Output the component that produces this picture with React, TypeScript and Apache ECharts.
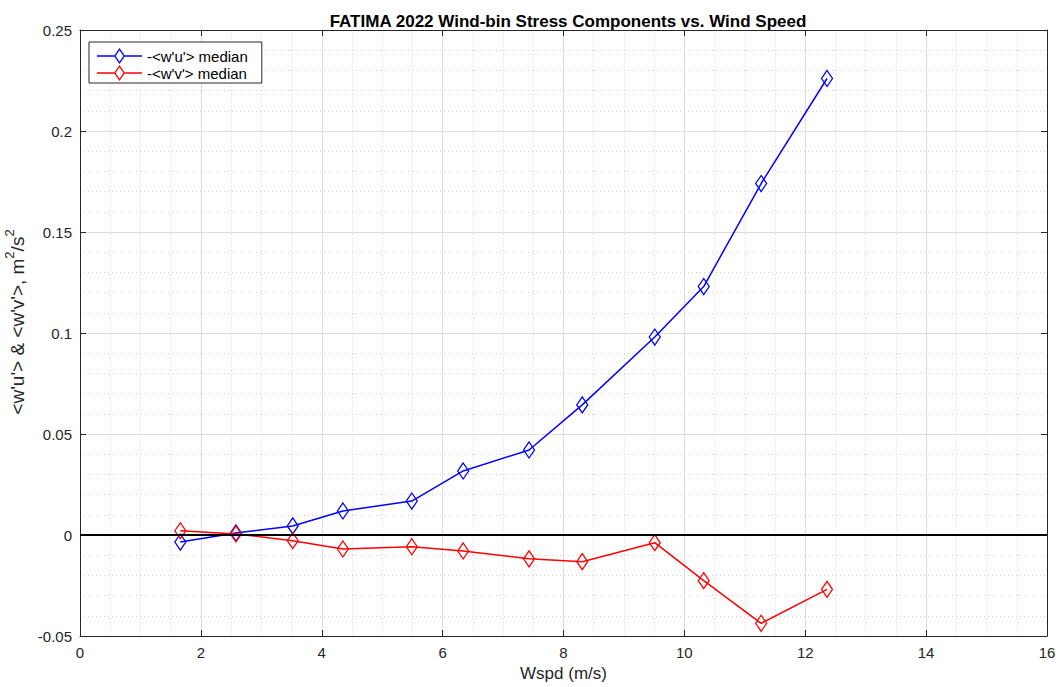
import React, { useEffect, useRef } from "react";
import * as echarts from "echarts";

const windSpeed = [1.66, 2.58, 3.52, 4.35, 5.49, 6.34, 7.43, 8.31, 9.51, 10.32, 11.27, 12.36];
const wuMedian = [-0.0035, 0.001, 0.0045, 0.0119, 0.0168, 0.0317, 0.0421, 0.0644, 0.098, 0.123, 0.174, 0.226];
const wvMedian = [0.0021, 0.0005, -0.0028, -0.0069, -0.0058, -0.0079, -0.0118, -0.0132, -0.0038, -0.0226, -0.0437, -0.0269];
const seriesNames = ["-<w'u'> median", "-<w'v'> median"];
const seriesColors = ["#0000ff", "#ff0000"];
const titleText = "FATIMA 2022 Wind-bin Stress Components vs. Wind Speed";
const xName = "Wspd (m/s)";
const yNameParts = ["<w'u'> & <w'v'>, m", "2", "/s", "2"];

const FONT = "'Liberation Sans', Arial, Helvetica, sans-serif";
const AX = "#262626";

// legend icon: horizontal line through an outlined diamond (45 x 16 box)
const LEGEND_ICON =
  "path://M0 7.25L17.2 7.25L17.2 8.75L0 8.75Z" +
  "M27.8 7.25L45 7.25L45 8.75L27.8 8.75Z" +
  "M22.5 0L28 8L22.5 16L17 8Z" +
  "M22.5 2.2L18.6 8L22.5 13.8L26.4 8Z";

export default function App() {
  const ref = useRef<HTMLDivElement>(null);
  useEffect(() => {
    if (!ref.current) return;
    const chart = echarts.init(ref.current, undefined, { renderer: "svg" });
    const pair = (xs: number[], ys: number[]) => xs.map((x, i) => [x, ys[i]]);
    const yName = `{a|${yNameParts[0]}}{s|${yNameParts[1]}}{a|${yNameParts[2]}}{s|${yNameParts[3]}}`;
    const axisCommon = {
      axisLine: { show: true, onZero: false, lineStyle: { color: AX, width: 1 } },
      axisTick: { show: true, inside: true, length: 6, lineStyle: { color: AX } },
      splitLine: { show: true, lineStyle: { color: "#dedede", width: 1 } },
      minorSplitLine: { show: true, lineStyle: { color: "#d2d2d2", width: 1, type: [1, 3] } },
    };
    chart.setOption({
      animation: false,
      backgroundColor: "#ffffff",
      title: {
        text: titleText,
        left: 563,
        textAlign: "center",
        top: 8,
        textStyle: { fontFamily: FONT, fontSize: 17, fontWeight: "bold", color: "#000" },
      },
      legend: {
        left: 89,
        top: 42,
        orient: "vertical",
        itemWidth: 45,
        itemHeight: 16,
        itemGap: 1,
        padding: [6, 14, 2, 8],
        borderColor: AX,
        borderWidth: 1,
        borderRadius: 0,
        backgroundColor: "#fff",
        textStyle: { fontFamily: FONT, fontSize: 15, color: "#000" },
        data: seriesNames.map((name, i) => ({
          name,
          icon: LEGEND_ICON,
          itemStyle: { color: seriesColors[i], borderWidth: 0, opacity: 1 },
        })),
      },
      grid: { left: 80, right: 13, top: 30, bottom: 51, outerBoundsMode: "none", containLabel: false },
      xAxis: [
        {
          type: "value",
          min: 0,
          max: 16,
          interval: 2,
          position: "bottom",
          name: xName,
          nameLocation: "middle",
          nameGap: 29,
          nameTextStyle: { fontFamily: FONT, fontSize: 17, color: AX },
          axisLabel: { fontFamily: FONT, fontSize: 15, color: AX, margin: 9 },
          ...axisCommon,
          minorTick: { show: false, splitNumber: 4 },
        },
        {
          type: "value",
          min: 0,
          max: 16,
          interval: 2,
          position: "top",
          axisLabel: { show: false },
          axisLine: { show: true, onZero: false, lineStyle: { color: AX, width: 1 } },
          axisTick: { show: true, inside: true, length: 6, lineStyle: { color: AX } },
          splitLine: { show: false },
        },
      ],
      yAxis: [
        {
          type: "value",
          min: -0.05,
          max: 0.25,
          interval: 0.05,
          position: "left",
          name: yName,
          nameLocation: "middle",
          nameRotate: 90,
          nameGap: 42,
          nameTextStyle: {
            fontFamily: FONT,
            color: AX,
            padding: [0, 0, 0, 22],
            rich: {
              a: { fontFamily: FONT, fontSize: 19, color: AX, lineHeight: 24, verticalAlign: "bottom" },
              s: { fontFamily: FONT, fontSize: 13, color: AX, verticalAlign: "top", lineHeight: 24 },
            },
          },
          axisLabel: { fontFamily: FONT, fontSize: 15, color: AX, margin: 8 },
          ...axisCommon,
          minorTick: { show: false, splitNumber: 5 },
        },
        {
          type: "value",
          min: -0.05,
          max: 0.25,
          interval: 0.05,
          position: "right",
          axisLabel: { show: false },
          axisLine: { show: true, onZero: false, lineStyle: { color: AX, width: 1 } },
          axisTick: { show: true, inside: true, length: 6, lineStyle: { color: AX } },
          splitLine: { show: false },
        },
      ],
      series: [
        {
          name: seriesNames[0],
          type: "line",
          data: pair(windSpeed, wuMedian),
          symbol: "diamond",
          symbolSize: [11, 16],
          showAllSymbol: true,
          lineStyle: { color: seriesColors[0], width: 1.5 },
          itemStyle: { color: "rgba(255,255,255,0)", borderColor: seriesColors[0], borderWidth: 1.3 },
          z: 3,
          markLine: {
            silent: true,
            symbol: "none",
            label: { show: false },
            lineStyle: { color: "#000", width: 2, type: "solid" },
            data: [{ yAxis: 0 }],
          },
        },
        {
          name: seriesNames[1],
          type: "line",
          data: pair(windSpeed, wvMedian),
          symbol: "diamond",
          symbolSize: [11, 16],
          showAllSymbol: true,
          lineStyle: { color: seriesColors[1], width: 1.5 },
          itemStyle: { color: "rgba(255,255,255,0)", borderColor: seriesColors[1], borderWidth: 1.3 },
          z: 4,
        },
      ],
    });
    return () => chart.dispose();
  }, []);
  return (
    <div
      ref={ref}
      style={{ position: "fixed", left: 0, top: 0, width: 1060, height: 687, background: "#fff" }}
    />
  );
}
